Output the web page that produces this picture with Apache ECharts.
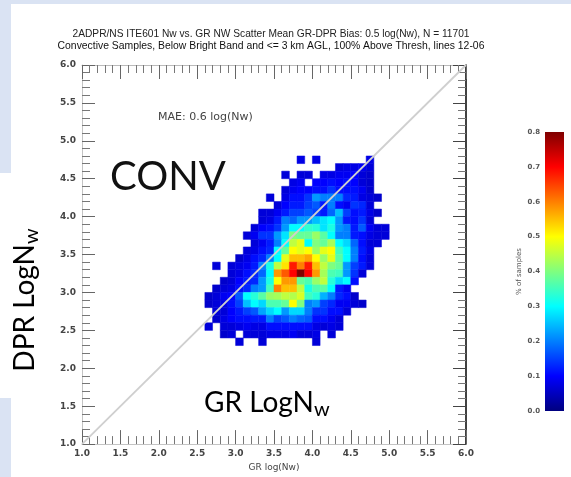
<!DOCTYPE html>
<html>
<head>
<meta charset="utf-8">
<style>
html,body{margin:0;padding:0;background:#fff}
#wrap{position:relative;width:571px;height:477px;overflow:hidden}
#c,#notes{position:absolute;left:0;top:0;width:571px;height:477px}
#c{filter:blur(0.6px)}
</style>
<script src="https://cdn.jsdelivr.net/npm/echarts@6/dist/echarts.min.js"></script>
</head>
<body>
<div id="wrap"><div id="c"></div><div id="notes"></div></div>
<script>
const titleLines = [
  '2ADPR/NS ITE601 Nw vs. GR NW Scatter Mean GR-DPR Bias: 0.5 log(Nw), N = 11701',
  'Convective Samples, Below Bright Band and <= 3 km AGL, 100% Above Thresh, lines 12-06'
];
const maeLabel = 'MAE: 0.6 log(Nw)';
const xBins = [2.5,2.6,2.7,2.8,2.9,3.0,3.1,3.2,3.3,3.4,3.5,3.6,3.7,3.8,3.9,4.0,4.1,4.2,4.3,4.4,4.5,4.6,4.7,4.8,4.9];
const yBins = [4.7,4.6,4.5,4.4,4.3,4.2,4.1,4.0,3.9,3.8,3.7,3.6,3.5,3.4,3.3,3.2,3.1,3.0,2.9,2.8,2.7,2.6,2.5,2.4,2.3];
const percentRows = [
 [0,0,0,0,0,0,0,0,0,0,0,0,0,.08,0,.08,0,0,0,0,0,0,.08,0,0],
 [0,0,0,0,0,0,0,0,0,0,0,0,0,0,0,0,0,0,.07,.08,.08,.09,.07,0,0],
 [0,0,0,0,0,0,0,0,0,0,0,.07,0,.07,.07,0,.08,.08,.09,.09,.1,.07,.06,0,0],
 [0,0,0,0,0,0,0,0,0,0,0,0,.08,.09,0,.1,.1,.11,.1,.11,.1,.07,.06,0,0],
 [0,0,0,0,0,0,0,0,0,0,0,.07,.09,.1,.1,.11,.11,.14,.11,.11,.11,.09,.06,0,0],
 [0,0,0,0,0,0,0,0,0,.07,0,.08,.11,.11,.14,.22,.2,.2,.2,.13,.12,.08,.07,.06,0],
 [0,0,0,0,0,0,0,0,0,0,.07,.1,.12,.12,.15,.17,.12,.2,.11,.09,.14,.13,.07,0,0],
 [0,0,0,0,0,0,0,0,.07,.07,.09,.12,.15,.15,.17,.15,.12,.18,.25,.15,.11,.12,.08,.06,0],
 [0,0,0,0,0,0,0,0,.07,.08,.12,.2,.18,.22,.22,.25,.28,.3,.22,.12,.11,.14,.07,0,0],
 [0,0,0,0,0,0,0,.07,.1,.11,.14,.22,.3,.3,.34,.33,.28,.32,.22,.2,.12,.17,.09,.07,.07],
 [0,0,0,0,0,0,.07,.09,.14,.14,.22,.28,.4,.38,.38,.42,.37,.3,.2,.2,.12,.11,.08,.07,.07],
 [0,0,0,0,0,0,0,.07,.09,.12,.2,.3,.45,.48,.3,.4,.38,.43,.3,.27,.18,.11,.07,.07,0],
 [0,0,0,0,0,0,.07,.08,.11,.13,.3,.38,.5,.48,.5,.42,.48,.5,.35,.3,.2,.12,.08,0,0],
 [0,0,0,0,0,.06,.08,.11,.13,.2,.3,.48,.55,.55,.57,.5,.42,.48,.37,.3,.2,.11,.07,0,0],
 [0,0,.07,0,.07,.08,.09,.12,.2,.32,.45,.52,.68,.6,.68,.55,.45,.4,.38,.22,.15,.12,.07,0,0],
 [0,0,0,0,.07,.08,.11,.13,.18,.3,.58,.63,.7,.8,.7,.58,.43,.36,.35,.22,.14,.07,0,0,0],
 [0,0,0,.06,.07,.1,.12,.13,.22,.32,.5,.58,.58,.38,.36,.42,.45,.33,.27,.3,.11,0,0,0,0],
 [0,0,.06,.07,.08,.11,.13,.2,.22,.35,.6,.55,.55,.45,.32,.36,.37,.3,.12,.09,0,0,0,0,0],
 [0,.06,.07,.09,.1,.17,.3,.33,.37,.42,.43,.45,.44,.47,.35,.33,.24,.2,.13,.11,.06,0,0,0,0],
 [0,.06,.07,.08,.11,.15,.25,.3,.27,.36,.36,.38,.5,.4,.2,.22,.15,.13,.09,.09,.07,.06,0,0,0],
 [0,0,.07,.07,.1,.12,.15,.17,.23,.27,.3,.22,.27,.27,.2,.14,.14,.11,.11,.07,0,0,0,0,0],
 [0,0,.06,.08,.1,.11,.11,.12,.12,.2,.15,.17,.2,.18,.17,.11,.11,.09,.07,0,0,0,0,0,0],
 [0,.07,0,.07,.07,.08,.09,.08,.08,.11,.11,.11,.11,.11,.11,.08,.07,.08,.07,0,0,0,0,0,0],
 [0,0,0,.06,.07,0,.07,.07,.07,.08,.08,.08,.09,.07,.07,.08,0,.07,0,0,0,0,0,0,0],
 [0,0,0,0,0,.07,0,0,.07,0,0,0,0,0,0,.07,0,0,0,0,0,0,0,0,0]
];
const diagonal = [[1,1],[6,6]];
const jetColors = ['#00007f','#0000ff','#007fff','#00ffff','#7fff7f','#ffff00','#ff7f00','#ff0000','#7f0000'];
const colorbarRange = [[0,0,1,0.8]];

const cells = [];
percentRows.forEach((row, r) => row.forEach((v, c) => {
  if (v > 0) cells.push([xBins[c], yBins[r], v]);
}));

const chart = echarts.init(document.getElementById('c'), null, {renderer:'canvas'});
const tickFont = 'DejaVu Sans';
const axisBase = {
  type:'value', min:1, max:6, interval:0.5,
  splitLine:{show:false},
  axisLine:{show:true,onZero:false,lineStyle:{color:'#c4c4c4',width:1}},
  axisTick:{show:true,inside:true,length:14,lineStyle:{color:'#666',width:1}},
  minorTick:{show:true,splitNumber:5,length:8,lineStyle:{color:'#777',width:1}},
  axisLabel:{color:'#444',fontFamily:tickFont,fontSize:9,fontWeight:'bold',formatter:v=>v.toFixed(1)}
};
chart.setOption({
  animation:false,
  backgroundColor:'#fff',
  grid:[
    {left:82,top:65,width:384,height:383},
    {left:545,top:132,width:19,height:279}
  ],
  xAxis:[
    Object.assign({},axisBase,{gridIndex:0,position:'bottom',axisLabel:Object.assign({},axisBase.axisLabel,{margin:5}),
      name:'GR log(Nw)',nameLocation:'middle',nameGap:18,nameTextStyle:{color:'#444',fontFamily:tickFont,fontSize:9}}),
    Object.assign({},axisBase,{gridIndex:0,position:'top',axisLabel:{show:false},axisLine:{show:true,onZero:false,lineStyle:{color:'#bbb'}}}),
    {type:'value',gridIndex:1,min:0,max:1,show:false}
  ],
  yAxis:[
    Object.assign({},axisBase,{gridIndex:0,position:'left',axisTick:{show:true,inside:true,length:13,lineStyle:{color:'#666'}},axisLabel:Object.assign({},axisBase.axisLabel,{margin:6})}),
    Object.assign({},axisBase,{gridIndex:0,position:'right',axisLabel:{show:false},axisLine:{show:true,onZero:false,lineStyle:{color:'#111',width:1.6}},axisTick:{show:true,inside:true,length:13,lineStyle:{color:'#444'}}}),
    {type:'value',gridIndex:1,min:0,max:0.8,interval:0.1,position:'left',
      axisLine:{show:false},axisTick:{show:false},splitLine:{show:false},
      axisLabel:{margin:5,color:'#555',fontFamily:tickFont,fontSize:7,fontWeight:'bold',formatter:v=>v.toFixed(1)},
      name:'% of samples',nameLocation:'middle',nameGap:22,nameRotate:90,
      nameTextStyle:{color:'#555',fontFamily:tickFont,fontSize:7}}
  ],
  visualMap:{
    show:false,type:'continuous',seriesIndex:0,dimension:2,min:0,max:0.8,
    inRange:{color:jetColors}
  },
  series:[
    {
      type:'custom',xAxisIndex:0,yAxisIndex:0,coordinateSystem:'cartesian2d',
      data:cells,encode:{x:0,y:1},z:2,silent:true,
      renderItem:(params,api)=>{
        const a=api.coord([api.value(0),api.value(1)+0.1]);
        const b=api.coord([api.value(0)+0.1,api.value(1)]);
        const col=api.visual('color');
        return {type:'rect',shape:{x:a[0],y:a[1],width:b[0]-a[0],height:b[1]-a[1]},style:{fill:col,stroke:col,lineWidth:0.5}};
      }
    },
    {
      type:'line',xAxisIndex:0,yAxisIndex:0,data:diagonal,symbol:'none',z:3,silent:true,
      lineStyle:{color:'#cfcfcf',width:1.8}
    },
    {
      type:'custom',xAxisIndex:2,yAxisIndex:2,coordinateSystem:'cartesian2d',
      data:colorbarRange,encode:{x:[0,2],y:[1,3]},silent:true,
      renderItem:(params,api)=>{
        const a=api.coord([api.value(0),api.value(3)]);
        const b=api.coord([api.value(2),api.value(1)]);
        const stops=jetColors.map((color,i)=>({offset:i/(jetColors.length-1),color}));
        return {type:'rect',shape:{x:a[0],y:a[1],width:b[0]-a[0],height:b[1]-a[1]},
          style:{fill:new echarts.graphic.LinearGradient(0,1,0,0,stops)}};
      }
    }
  ],
  graphic:[
    {type:'text',z:10,x:271,y:34,style:{text:titleLines[0],fill:'#222',font:'10.2px "Liberation Sans"',textAlign:'center',textVerticalAlign:'middle'},silent:true},
    {type:'text',z:10,x:271,y:46,style:{text:titleLines[1],fill:'#111',font:'10.4px "Liberation Sans"',textAlign:'center',textVerticalAlign:'middle'},silent:true},
    {type:'text',z:10,x:158,y:117,style:{text:maeLabel,fill:'#444',font:'11px "DejaVu Sans"',textVerticalAlign:'middle'},silent:true}
  ]
});

const sub = {
  a:{fontFamily:'Lato',fontSize:28,color:'#111'},
  b:{fontFamily:'Lato',fontSize:20,color:'#111',padding:[14,0,0,0]}
};
const notes = echarts.init(document.getElementById('notes'), null, {renderer:'canvas'});
notes.setOption({
  animation:false,
  graphic:[
    {type:'rect',shape:{x:0,y:0,width:571,height:4},style:{fill:'#dae3f3'},silent:true},
    {type:'rect',shape:{x:0,y:0,width:11,height:173},style:{fill:'#dae3f3'},silent:true},
    {type:'rect',shape:{x:0,y:398,width:11,height:79},style:{fill:'#dae3f3'},silent:true},
    {type:'text',x:110,y:177,style:{text:'CONV',fill:'#111',font:'40px Lato',textVerticalAlign:'middle'},silent:true},
    {type:'text',x:204,y:403,style:{text:'{a|GR LogN}{b|w}',rich:sub,textVerticalAlign:'middle'},silent:true},
    {type:'text',x:25,y:300,rotation:Math.PI/2,style:{text:'{a|DPR LogN}{b|w}',rich:sub,textAlign:'center',textVerticalAlign:'middle'},silent:true}
  ]
});
</script>
</body>
</html>
